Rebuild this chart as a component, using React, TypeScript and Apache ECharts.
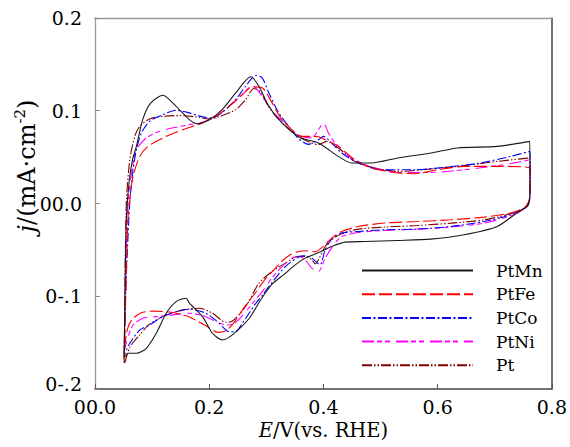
import React, { useEffect, useRef } from "react";
import * as echarts from "echarts";

const FONT = "DejaVu Serif";

const seriesNames = ["PtMn", "PtFe", "PtCo", "PtNi", "Pt"];
const seriesColors = ["#1a1a1a", "#ff0000", "#0000ff", "#ff00ff", "#800000"];

const xTickLabels: Record<string, string> = { "0": "00.0", "0.2": "0.2", "0.4": "0.4", "0.6": "0.6", "0.8": "0.8" };
const yTickLabels: Record<string, string> = { "0.2": "0.2", "0.1": "0.1", "0": "00.0", "-0.1": "0-.1", "-0.2": "{low|0-.2}" };

// [E (V vs RHE), j (mA/cm2)] — anodic sweep then cathodic sweep
const ptMn: number[][] = [
  [0.051, -0.166], [0.052, -0.12], [0.053, -0.07], [0.0551, -0.014], [0.06, 0.025], [0.066, 0.048],
  [0.0725, 0.0616], [0.0835, 0.0904], [0.097, 0.108], [0.1188, 0.1167], [0.142, 0.1048], [0.1652, 0.0904],
  [0.179, 0.086], [0.2, 0.0904], [0.2226, 0.1012], [0.2464, 0.1193], [0.2725, 0.1366], [0.287, 0.1264],
  [0.3043, 0.1048], [0.327, 0.0872], [0.36, 0.071], [0.3913, 0.0653], [0.4261, 0.0508], [0.4492, 0.0437],
  [0.484, 0.0437], [0.5304, 0.0491], [0.5884, 0.0545], [0.6348, 0.0599], [0.7043, 0.0616], [0.7612, 0.067],
  [0.7617, 0.03], [0.761, 0.005], [0.7565, -0.0032], [0.7391, -0.01], [0.7043, -0.0248], [0.6464, -0.0337],
  [0.5878, -0.0384], [0.5304, -0.0399], [0.4725, -0.041], [0.4377, -0.0416], [0.4145, -0.0464], [0.3913, -0.0529],
  [0.3682, -0.0589], [0.35, -0.0665], [0.33, -0.077], [0.31, -0.087], [0.29, -0.104], [0.27, -0.124],
  [0.2405, -0.1417], [0.2231, -0.1471], [0.2057, -0.1399], [0.1883, -0.122], [0.1652, -0.1075], [0.1595, -0.1021],
  [0.1421, -0.1058], [0.1247, -0.1183], [0.1073, -0.1399], [0.0899, -0.1561], [0.0725, -0.1615], [0.0579, -0.1615],
  [0.0513, -0.166],
];

const ptFe: number[][] = [
  [0.051, -0.168], [0.053, -0.12], [0.055, -0.07], [0.0579, -0.014], [0.0609, 0.0041], [0.0666, 0.0292],
  [0.0783, 0.0508], [0.0927, 0.0616], [0.1188, 0.0707], [0.1536, 0.0796], [0.1883, 0.0869], [0.2117, 0.094],
  [0.2348, 0.1048], [0.2579, 0.1174], [0.2753, 0.1258], [0.2927, 0.1247], [0.3101, 0.1085], [0.3275, 0.0904],
  [0.3623, 0.0724], [0.3797, 0.0724], [0.392, 0.072], [0.403, 0.0688], [0.4261, 0.0616], [0.4551, 0.0472],
  [0.484, 0.0383], [0.5304, 0.0329], [0.5595, 0.0321], [0.6, 0.0364], [0.6464, 0.04], [0.716, 0.04],
  [0.7612, 0.0383],
  [0.762, 0.02], [0.76, 0.003], [0.7508, -0.005], [0.7275, -0.0103], [0.6812, -0.0147], [0.6231, -0.0176],
  [0.5652, -0.0194], [0.5073, -0.0211], [0.4609, -0.0248], [0.4318, -0.0302], [0.4144, -0.0373], [0.4, -0.046],
  [0.385, -0.052], [0.37, -0.051], [0.355, -0.052], [0.34, -0.056], [0.3275, -0.062], [0.316, -0.07],
  [0.3, -0.08], [0.28, -0.097], [0.26, -0.113], [0.245, -0.127], [0.23, -0.137], [0.215, -0.139],
  [0.2, -0.134], [0.18, -0.127], [0.16, -0.121], [0.13, -0.117], [0.1, -0.116], [0.08, -0.118],
  [0.065, -0.125], [0.057, -0.135], [0.053, -0.15], [0.051, -0.168],
];

const ptCo: number[][] = [
  [0.051, -0.162], [0.053, -0.11], [0.056, -0.06], [0.0609, 0.0008], [0.0666, 0.0364], [0.0725, 0.058],
  [0.0812, 0.0761], [0.0957, 0.0886], [0.1188, 0.0958], [0.1421, 0.1005], [0.1652, 0.0977], [0.1883, 0.0934],
  [0.2057, 0.0923], [0.2231, 0.0983], [0.2464, 0.112], [0.2638, 0.1264], [0.2812, 0.138], [0.2927, 0.1355],
  [0.3043, 0.1193], [0.3217, 0.0977], [0.3391, 0.0832], [0.3565, 0.07], [0.3739, 0.0637], [0.3913, 0.0688],
  [0.4, 0.0724], [0.4117, 0.067], [0.4318, 0.0545], [0.4609, 0.0437], [0.5014, 0.0364], [0.5595, 0.0364],
  [0.6174, 0.0394], [0.6753, 0.0437], [0.7275, 0.0508], [0.7612, 0.0562],
  [0.762, 0.03], [0.761, 0.005], [0.7565, -0.0032], [0.7275, -0.0121], [0.6812, -0.0194], [0.6231, -0.0248],
  [0.5652, -0.0276], [0.5073, -0.0283], [0.4609, -0.0302], [0.4318, -0.0319], [0.4144, -0.0384], [0.403, -0.05],
  [0.394, -0.066], [0.3797, -0.0589], [0.3682, -0.0564], [0.3565, -0.0578], [0.3333, -0.068], [0.3101, -0.085],
  [0.2927, -0.099], [0.2812, -0.108], [0.2579, -0.1291], [0.2464, -0.1382], [0.2348, -0.1382], [0.2174, -0.1291],
  [0.1943, -0.1183], [0.1652, -0.114], [0.1421, -0.1166], [0.1188, -0.122], [0.0957, -0.1309], [0.0783, -0.1363],
  [0.0609, -0.1507], [0.0551, -0.1579], [0.0522, -0.162],
];

const ptNi: number[][] = [
  [0.0515, -0.158], [0.053, -0.1], [0.055, -0.05], [0.0579, 0.0005], [0.0638, 0.0329], [0.0725, 0.058],
  [0.0899, 0.0707], [0.113, 0.0778], [0.1362, 0.0815], [0.1652, 0.085], [0.1883, 0.0875], [0.2117, 0.094],
  [0.2348, 0.1048], [0.2579, 0.1174], [0.2753, 0.1272], [0.284, 0.1228], [0.2986, 0.1102], [0.316, 0.0958],
  [0.3391, 0.0832], [0.3565, 0.0732], [0.3797, 0.0707], [0.3913, 0.0796], [0.4, 0.0869], [0.4087, 0.0761],
  [0.4203, 0.0653], [0.4492, 0.0491], [0.484, 0.0394], [0.5304, 0.0335], [0.5884, 0.0335], [0.6464, 0.0364],
  [0.7043, 0.0408], [0.7391, 0.0443], [0.7612, 0.0472],
  [0.762, 0.03], [0.761, 0.005], [0.7565, -0.0032], [0.7334, -0.0121], [0.6812, -0.0211], [0.6231, -0.0254],
  [0.5652, -0.0276], [0.5073, -0.0291], [0.4609, -0.0313], [0.4318, -0.0356], [0.4203, -0.0427], [0.4029, -0.0589],
  [0.3913, -0.0734], [0.3797, -0.0697], [0.3682, -0.0607], [0.3565, -0.0572], [0.3449, -0.0589], [0.3275, -0.068],
  [0.3101, -0.08], [0.2927, -0.095], [0.2753, -0.108], [0.258, -0.121], [0.2465, -0.128], [0.2348, -0.131],
  [0.2174, -0.1291], [0.1943, -0.122], [0.1652, -0.1183], [0.1362, -0.1201], [0.1073, -0.122], [0.084, -0.1237],
  [0.0666, -0.131], [0.0579, -0.1436], [0.0522, -0.156],
];

const pt: number[][] = [
  [0.051, -0.172], [0.052, -0.12], [0.053, -0.06], [0.0551, 0.004], [0.0609, 0.0472], [0.0696, 0.0724],
  [0.0783, 0.0832], [0.0957, 0.0912], [0.1188, 0.094], [0.1478, 0.0948], [0.1769, 0.0934], [0.2, 0.0912],
  [0.2231, 0.0948], [0.2464, 0.1012], [0.2638, 0.112], [0.2782, 0.124], [0.29, 0.12], [0.3043, 0.104],
  [0.327, 0.087], [0.3565, 0.072], [0.3913, 0.0634], [0.4057, 0.067], [0.4261, 0.0599], [0.4551, 0.0454],
  [0.4899, 0.0383], [0.5304, 0.0346], [0.5884, 0.0372], [0.6464, 0.0408], [0.7043, 0.0454], [0.7612, 0.0491],
  [0.762, 0.03], [0.761, 0.005], [0.7565, -0.0032], [0.7334, -0.01], [0.6812, -0.0176], [0.6231, -0.0212],
  [0.5652, -0.0237], [0.5073, -0.0254], [0.4609, -0.0276], [0.4318, -0.0326], [0.4144, -0.0391], [0.403, -0.0464],
  [0.3913, -0.0607], [0.3855, -0.0651], [0.3797, -0.0607], [0.3682, -0.057], [0.3565, -0.057], [0.3333, -0.0643],
  [0.3101, -0.0733], [0.287, -0.0859], [0.27, -0.105], [0.255, -0.118], [0.24, -0.127], [0.229, -0.128],
  [0.2057, -0.1183], [0.1826, -0.1129], [0.155, -0.1147], [0.1247, -0.12], [0.0957, -0.13], [0.0783, -0.1417],
  [0.0609, -0.155], [0.0522, -0.172],
];

const seriesData = [ptMn, ptFe, ptCo, ptNi, pt];
const seriesDash: (number[] | "solid")[] = [
  "solid",
  [13, 4],
  [9, 2.5, 2, 2.5],
  [12, 3, 5, 3, 5, 6],
  [10, 2, 1.5, 2, 1.5, 2],
];

const key = (v: number) => String(Math.round(v * 10) / 10 || 0);

export default function App() {
  const ref = useRef<HTMLDivElement>(null);
  useEffect(() => {
    if (!ref.current) return;
    const chart = echarts.init(ref.current, undefined, { renderer: "svg" });
    const tick = { fontFamily: FONT, fontSize: 19, color: "#000" };
    chart.setOption({
      animation: false,
      backgroundColor: "#fff",
      textStyle: { fontFamily: FONT },
      grid: { left: 95, top: 18, width: 460, height: 371, containLabel: false },
      legend: {
        orient: "vertical",
        left: 356,
        top: 257,
        itemWidth: 111,
        itemHeight: 14,
        itemGap: 6.7,
        data: seriesNames,
        itemStyle: { opacity: 0, borderWidth: 0 },
        textStyle: { fontFamily: FONT, fontSize: 17, color: "#000", lineHeight: 14, padding: [0, 0, 0, 18] },
      },
      xAxis: [
        {
          type: "value",
          min: 0,
          max: 0.8,
          interval: 0.2,
          position: "bottom",
          axisLine: { show: true, onZero: false, lineStyle: { color: "#444", width: 1.5 } },
          axisTick: { show: true, inside: true, length: 5, lineStyle: { color: "#555" } },
          splitLine: { show: false },
          axisLabel: { ...tick, margin: 8, formatter: (v: number) => xTickLabels[key(v)] ?? "" },
          name: "{i|E}/V(vs. RHE)",
          nameLocation: "middle",
          nameGap: 31,
          nameTextStyle: { fontFamily: FONT, fontSize: 19.5, color: "#000", rich: { i: { fontFamily: FONT, fontSize: 19.5, fontStyle: "italic", color: "#000" } } },
        },
        {
          type: "value",
          min: 0,
          max: 0.8,
          interval: 0.2,
          position: "top",
          axisLine: { show: true, onZero: false, lineStyle: { color: "#999", width: 1.3 } },
          axisTick: { show: false },
          axisLabel: { show: false },
          splitLine: { show: false },
        },
      ],
      yAxis: [
        {
          type: "value",
          min: -0.2,
          max: 0.2,
          interval: 0.1,
          position: "left",
          axisLine: { show: true, onZero: false, lineStyle: { color: "#999", width: 1.3 } },
          axisTick: { show: true, inside: true, length: 5, lineStyle: { color: "#888" } },
          splitLine: { show: false },
          axisLabel: {
            ...tick,
            margin: 13,
            formatter: (v: number) => yTickLabels[key(v)] ?? "",
            rich: { low: { fontFamily: FONT, fontSize: 19, color: "#000", padding: [0, 0, 10, 0] } },
          },
        },
        {
          type: "value",
          min: -0.2,
          max: 0.2,
          interval: 0.1,
          position: "right",
          axisLine: { show: true, onZero: false, lineStyle: { color: "#444", width: 1.5 } },
          axisTick: { show: false },
          axisLabel: { show: false },
          splitLine: { show: false },
        },
      ],
      graphic: [
        {
          type: "text",
          x: 27,
          y: 166,
          rotation: Math.PI / 2,
          style: {
            text: "{i|j}/(mA·cm{s|-2})",
            fontFamily: FONT,
            fontSize: 24,
            fill: "#000",
            align: "center",
            verticalAlign: "middle",
            rich: {
              i: { fontFamily: FONT, fontSize: 24, fontStyle: "italic", fill: "#000" },
              s: { fontFamily: FONT, fontSize: 15, fill: "#000", padding: [0, 0, 14, 0] },
            },
          },
        },
      ],
      series: seriesNames.map((name, i) => ({
        name,
        type: "line",
        data: seriesData[i],
        symbol: "none",
        smooth: 0.25,
        xAxisIndex: 0,
        yAxisIndex: 0,
        z: 10 - i,
        lineStyle: { color: seriesColors[i], width: 1.1, type: seriesDash[i] },
        itemStyle: { color: seriesColors[i] },
      })),
    });
    return () => chart.dispose();
  }, []);
  return <div ref={ref} style={{ position: "absolute", left: 0, top: 0, width: 570, height: 447 }} />;
}
